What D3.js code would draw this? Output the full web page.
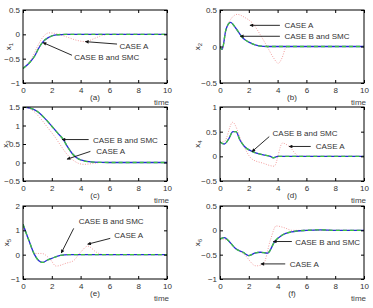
<!DOCTYPE html>
<html>
<head>
<meta charset="utf-8">
<script src="https://cdn.jsdelivr.net/npm/d3@7"></script>
<style>
  body { margin: 0; background: #fff; }
  text { font-family: "Liberation Sans", Arial, sans-serif; }
</style>
</head>
<body>
<svg id="chart" width="373" height="308"></svg>
<script>
// time samples and values
const tA = [0, 0.4, 0.8, 1.1, 1.4, 1.8, 2.3, 3, 4, 6, 8, 10];
const x1B = [-0.7, -0.6, -0.45, -0.28, -0.15, -0.06, -0.01, 0, 0, 0, 0, 0];
const tA2 = [0, 0.6, 1.0, 1.4, 1.8, 2.2, 3, 3.7, 4.3, 5, 5.5, 6, 8, 10];
const x1A = [-0.7, -0.5, -0.25, -0.05, 0.03, 0.02, -0.05, -0.12, -0.15, -0.08, -0.02, 0, 0, 0];

const tB = [0, 0.15, 0.4, 0.72, 1.1, 1.57, 2.0, 2.7, 3.3, 5, 10];
const x2B = [0, -0.04, 0.22, 0.33, 0.25, 0.12, 0.06, 0.01, 0, 0, 0];
const tB2 = [0, 0.15, 0.5, 1.2, 1.7, 2.3, 2.8, 3.3, 3.7, 4.05, 4.3, 4.6, 5, 10];
const x2A = [0, -0.04, 0.28, 0.44, 0.4, 0.31, 0.16, -0.01, -0.15, -0.23, -0.16, -0.01, 0, 0];

const tC = [0, 0.5, 1, 1.5, 2, 2.4, 2.8, 3.1, 3.4, 4, 4.9, 6, 10];
const x3B = [1.5, 1.47, 1.38, 1.2, 0.98, 0.8, 0.62, 0.42, 0.25, 0.07, 0.01, 0, 0];
const tC2 = [0, 0.5, 1.2, 1.7, 2.2, 2.6, 3, 3.6, 4.2, 4.8, 5.5, 10];
const x3A = [1.5, 1.45, 1.2, 0.95, 0.7, 0.47, 0.25, 0.03, -0.05, -0.03, 0, 0];

const tD = [0, 0.3, 0.6, 0.9, 1.1, 1.4, 1.7, 2.3, 3, 3.5, 3.7, 4, 5, 10];
const x4B = [0.29, 0.25, 0.35, 0.5, 0.5, 0.32, 0.2, 0.09, 0.03, 0, -0.03, 0, 0, 0];
const tD2 = [0, 0.3, 0.88, 1.5, 2.2, 3, 3.76, 4.34, 4.8, 5.5, 10];
const x4A = [0.29, 0.3, 0.69, 0.3, -0.05, -0.14, -0.2, 0.27, 0.2, 0, 0];

const tE = [0, 0.4, 0.8, 1.1, 1.39, 1.7, 2.0, 2.6, 3.2, 10];
const x5B = [1.25, 0.6, 0, -0.25, -0.32, -0.22, -0.15, -0.03, 0, 0];
const tE2 = [0, 0.4, 0.8, 1.3, 1.9, 2.3, 3, 3.5, 4.0, 4.5, 5.1, 5.6, 10];
const x5A = [1.25, 0.6, 0.05, 0.05, -0.2, -0.47, -0.35, -0.25, 0.1, 0.35, 0.1, 0, 0];

const tF = [0, 0.3, 0.7, 1.1, 1.6, 2, 2.4, 2.8, 3.3, 3.8, 4.3, 5, 6, 7, 8, 10];
const x6B = [-0.18, -0.15, -0.25, -0.38, -0.45, -0.52, -0.47, -0.45, -0.47, -0.23, -0.1, -0.03, 0, 0.01, 0, 0];
const tF2 = [0, 0.5, 1, 1.7, 2.5, 3, 3.5, 3.9, 4.5, 5, 10];
const x6A = [-0.18, -0.2, -0.35, -0.5, -0.73, -0.7, -0.2, 0.09, 0.05, 0, 0];

const xTicks = [0, 2, 4, 6, 8, 10];
const panelLabels = ["(a)", "(b)", "(c)", "(d)", "(e)", "(f)"];
const yNames = ["1", "2", "3", "4", "5", "6"];
const yDomains = [[-1, 0.5], [-0.5, 0.5], [-0.5, 1.5], [-0.5, 1], [-1, 2], [-1, 0.5]];
const yTicks = [[-1, -0.5, 0, 0.5], [-0.5, 0, 0.5], [-0.5, 0, 0.5, 1, 1.5], [-0.5, 0, 0.5, 1], [-1, 0, 1, 2], [-1, -0.5, 0, 0.5]];

// annotations: [label, head t, head y, tail t, tail y, text t, text y]
const notes = [
  [["CASE A", 4.33, -0.15, 6.53, -0.2, 6.7, -0.23], ["CASE B and SMC", 1.39, -0.17, 3.4, -0.43, 3.56, -0.46]],
  [["CASE A", 2.08, 0.29, 4.16, 0.29, 4.48, 0.29], ["CASE B and SMC", 1.41, 0.14, 4.16, 0.14, 4.48, 0.14]],
  [["CASE B and SMC", 2.71, 0.62, 4.56, 0.62, 4.86, 0.62], ["CASE A", 3.06, 0.09, 4.68, 0.3, 5.09, 0.3]],
  [["CASE B and SMC", 2.22, 0.095, 3.42, 0.4, 3.65, 0.47], ["CASE A", 4.8, 0.2, 6.3, 0.2, 6.65, 0.2]],
  [["CASE B and SMC", 2.66, 0.07, 3.52, 1.08, 3.87, 1.37], ["CASE A", 4.49, 0.43, 6.06, 0.67, 6.34, 0.81]],
  [["CASE B and SMC", 3.7, -0.23, 4.99, -0.23, 5.22, -0.23], ["CASE A", 2.84, -0.69, 4.53, -0.69, 4.85, -0.69]]
];

const series = [
  [tA, x1B, tA2, x1A], [tB, x2B, tB2, x2A], [tC, x3B, tC2, x3A],
  [tD, x4B, tD2, x4A], [tE, x5B, tE2, x5A], [tF, x6B, tF2, x6A]
];

const svg = d3.select("#chart");
svg.append("defs").append("marker")
  .attr("id", "head").attr("viewBox", "0 0 10 10")
  .attr("refX", 9).attr("refY", 5)
  .attr("markerWidth", 5).attr("markerHeight", 4)
  .attr("orient", "auto")
  .append("path").attr("d", "M0,0L10,5L0,10z").attr("fill", "#111");

const cols = [[23, 167], [220, 364]];
const rows = [[10, 83], [107, 181], [206, 279]];
const yLabelX = [11, 200, 8, 200, 9, 200];

series.forEach((s, i) => {
  const [x0, x1] = cols[i % 2];
  const [y0, y1] = rows[Math.floor(i / 2)];
  const x = d3.scaleLinear().domain([0, 10]).range([x0, x1]);
  const y = d3.scaleLinear().domain(yDomains[i]).range([y1, y0]);
  const g = svg.append("g");

  const clipId = "clip" + i;
  g.append("clipPath").attr("id", clipId).append("rect")
    .attr("x", x0).attr("y", y0).attr("width", x1 - x0).attr("height", y1 - y0);

  const line = d3.line().curve(d3.curveMonotoneX).x(d => x(d[0])).y(d => y(d[1]));
  const lines = g.append("g").attr("clip-path", `url(#${clipId})`);
  const caseA = s[2].map((t, k) => [t, s[3][k]]);
  const caseB = s[0].map((t, k) => [t, s[1][k]]);
  lines.append("path").attr("d", line(caseA)).attr("fill", "none")
    .attr("stroke", "#f4a0a0").attr("stroke-width", 1).attr("stroke-dasharray", "1,1.5");
  lines.append("path").attr("d", line(caseB)).attr("fill", "none")
    .attr("stroke", "#2a2ad8").attr("stroke-width", 1.3);
  // SMC overlaps CASE B
  lines.append("path").attr("d", line(caseB)).attr("fill", "none")
    .attr("stroke", "#3ec43e").attr("stroke-width", 1.3).attr("stroke-dasharray", "4,3");

  g.append("rect").attr("x", x0).attr("y", y0).attr("width", x1 - x0).attr("height", y1 - y0)
    .attr("fill", "none").attr("stroke", "#000").attr("stroke-width", 1);

  const bottom = g.append("g").attr("transform", `translate(0,${y1})`)
    .call(d3.axisBottom(x).tickValues(xTicks).tickSize(-3).tickPadding(4));
  const top = g.append("g").attr("transform", `translate(0,${y0})`)
    .call(d3.axisTop(x).tickValues(xTicks).tickSize(-3).tickFormat(""));
  const left = g.append("g").attr("transform", `translate(${x0},0)`)
    .call(d3.axisLeft(y).tickValues(yTicks[i]).tickSize(-3).tickPadding(3).tickFormat(d => d < 0 ? "\u2212" + Math.abs(d) : d));
  const right = g.append("g").attr("transform", `translate(${x1},0)`)
    .call(d3.axisRight(y).tickValues(yTicks[i]).tickSize(-3).tickFormat(""));
  [bottom, top, left, right].forEach(a => {
    a.select(".domain").remove();
    a.selectAll("text").attr("font-size", 8).attr("fill", "#333").style("font-family", "Liberation Sans, Arial, sans-serif");
    a.selectAll("line").attr("stroke", "#000");
  });

  g.append("text").attr("x", x1 + 2).attr("y", y1 + 22).attr("text-anchor", "end")
    .attr("font-size", 8).attr("fill", "#444").text("time");
  g.append("text").attr("x", (x0 + x1) / 2).attr("y", y1 + 17).attr("text-anchor", "middle")
    .attr("font-size", 8).attr("fill", "#333").text(panelLabels[i]);

  const yl = g.append("text")
    .attr("transform", `translate(${yLabelX[i]},${(y0 + y1) / 2}) rotate(-90)`)
    .attr("text-anchor", "middle").attr("font-size", 8).attr("fill", "#333");
  yl.append("tspan").text("x");
  yl.append("tspan").attr("font-size", 6).attr("dy", 2).text(yNames[i]);

  notes[i].forEach(n => {
    g.append("line")
      .attr("x1", x(n[3])).attr("y1", y(n[4]))
      .attr("x2", x(n[1])).attr("y2", y(n[2]))
      .attr("stroke", "#111").attr("stroke-width", 0.9)
      .attr("marker-end", "url(#head)");
    g.append("text").attr("x", x(n[5])).attr("y", y(n[6]) + 3)
      .attr("font-size", 8).attr("fill", "#333").text(n[0]);
  });
});
</script>
</body>
</html>
